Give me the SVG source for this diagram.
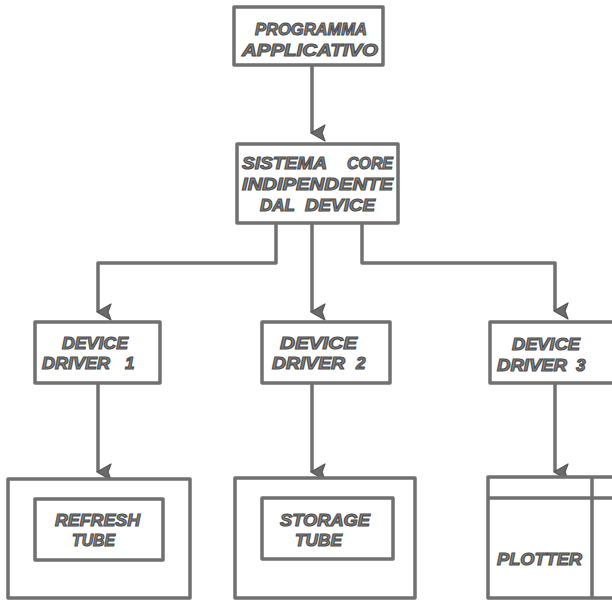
<svg xmlns="http://www.w3.org/2000/svg" width="612" height="601" viewBox="0 0 612 601">
<defs>
<marker id="ah" markerUnits="userSpaceOnUse" markerWidth="18" markerHeight="18" viewBox="0 0 18 18" refX="9" refY="16" orient="auto-start-reverse">
<path d="M1,3 L9,6 L17,3 L9,17 Z" fill="#6a6a6a" stroke="#555" stroke-width="1.2" stroke-linejoin="round"/>
</marker>
</defs>
<style>
.box{fill:#fff;stroke:#707070;stroke-width:3.5;stroke-linejoin:round}
.ln{fill:none;stroke:#707070;stroke-width:3.5;stroke-linejoin:round}
.t{font-family:"Liberation Sans",Arial,sans-serif;font-weight:bold;font-style:italic;font-size:17px;fill:#8a8a8a;stroke:#4a4a4a;stroke-width:1.1}
</style>
<rect width="612" height="601" fill="#fff"/>
<g id="connectors">
<path class="ln" d="M312,65 V133" marker-end="url(#ah)"/>
<path class="ln" d="M276,223 V263 H98 V312" marker-end="url(#ah)"/>
<path class="ln" d="M312,223 V312" marker-end="url(#ah)"/>
<path class="ln" d="M362,223 V263 H555 V311" marker-end="url(#ah)"/>
<path class="ln" d="M98,383 V472" marker-end="url(#ah)"/>
<path class="ln" d="M312,383 V472" marker-end="url(#ah)"/>
<path class="ln" d="M555,383 V472" marker-end="url(#ah)"/>
</g>
<g id="programma">
<rect class="box" x="234" y="7" width="149" height="58"/>
<text class="t" x="255" y="35" textLength="112" lengthAdjust="spacingAndGlyphs">PROGRAMMA</text>
<text class="t" x="242" y="56" textLength="136" lengthAdjust="spacingAndGlyphs">APPLICATIVO</text>
</g>
<g id="core">
<rect class="box" x="237" y="144" width="161" height="79"/>
<text class="t" x="242" y="169" textLength="85" lengthAdjust="spacingAndGlyphs">SISTEMA</text>
<text class="t" x="347" y="169" textLength="46" lengthAdjust="spacingAndGlyphs">CORE</text>
<text class="t" x="242" y="190" textLength="151" lengthAdjust="spacingAndGlyphs">INDIPENDENTE</text>
<text class="t" x="260" y="211" textLength="35" lengthAdjust="spacingAndGlyphs">DAL</text>
<text class="t" x="305" y="211" textLength="70" lengthAdjust="spacingAndGlyphs">DEVICE</text>
</g>
<g id="driver1">
<rect class="box" x="35" y="322" width="125" height="61"/>
<text class="t" x="62" y="349" textLength="66" lengthAdjust="spacingAndGlyphs">DEVICE</text>
<text class="t" x="42" y="369" textLength="68" lengthAdjust="spacingAndGlyphs">DRIVER</text>
<text class="t" x="125" y="369">1</text>
</g>
<g id="driver2">
<rect class="box" x="262" y="322" width="128" height="61"/>
<text class="t" x="280" y="349" textLength="77" lengthAdjust="spacingAndGlyphs">DEVICE</text>
<text class="t" x="272" y="369" textLength="73" lengthAdjust="spacingAndGlyphs">DRIVER</text>
<text class="t" x="356" y="369">2</text>
</g>
<g id="driver3">
<rect class="box" x="490" y="322" width="130" height="61"/>
<text class="t" x="512" y="350" textLength="68" lengthAdjust="spacingAndGlyphs">DEVICE</text>
<text class="t" x="497" y="371" textLength="70" lengthAdjust="spacingAndGlyphs">DRIVER</text>
<text class="t" x="576" y="371">3</text>
</g>
<g id="refresh">
<rect class="box" x="8" y="479" width="182" height="119"/>
<rect class="box" x="35" y="499" width="128" height="61"/>
<text class="t" x="55" y="526" textLength="85" lengthAdjust="spacingAndGlyphs">REFRESH</text>
<text class="t" x="72" y="546" textLength="43" lengthAdjust="spacingAndGlyphs">TUBE</text>
</g>
<g id="storage">
<rect class="box" x="235" y="478" width="180" height="120"/>
<rect class="box" x="262" y="498" width="131" height="61"/>
<text class="t" x="280" y="526" textLength="90" lengthAdjust="spacingAndGlyphs">STORAGE</text>
<text class="t" x="295" y="546" textLength="47" lengthAdjust="spacingAndGlyphs">TUBE</text>
</g>
<g id="plotter">
<rect class="box" x="488" y="477" width="135" height="121"/>
<path class="ln" d="M488,498 H620 M592,477 V598"/>
<text class="t" x="497" y="565" textLength="85" lengthAdjust="spacingAndGlyphs">PLOTTER</text>
</g>
</svg>
